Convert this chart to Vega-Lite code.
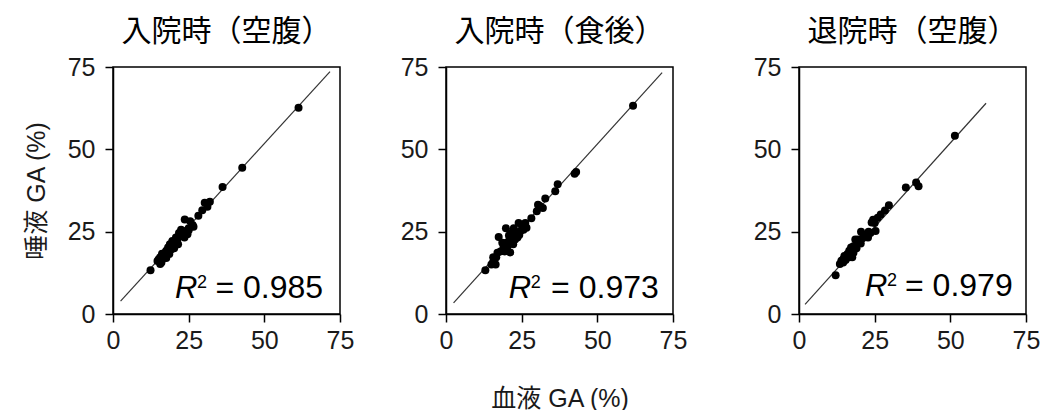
{
  "$schema": "https://vega.github.io/schema/vega-lite/v6.json",
  "padding": {"left": 23, "top": 16, "right": 0, "bottom": 0},
  "background": "white",
  "spacing": 44,
  "config": {
    "view": {"stroke": "#000", "strokeWidth": 1.5},
    "font": "Liberation Sans, Noto Sans CJK JP",
    "title": {"font": "Noto Sans CJK JP", "fontSize": 30, "fontWeight": "normal", "color": "#000", "offset": 8},
    "axisX": {"labelPadding": 6},
    "axisY": {"labelPadding": 10},
    "axis": {
      "grid": false, "labelFontSize": 25, "labelFont": "Liberation Sans", "labelColor": "#1a1a1a",
      "tickSize": 8, "tickWidth": 1.5, "tickColor": "#000", "domainColor": "#000", "domainWidth": 1.5,
      "titleFontSize": 25, "titleFont": "Liberation Sans, Noto Sans CJK JP", "titleFontWeight": "normal", "titleColor": "#1a1a1a",
      "labelFlush": false, "labelOverlap": false
    }
  },
  "datasets": {
    "pts": [
      {"panel":1,"x":61.3,"y":62.6},{"panel":1,"x":42.7,"y":44.4},{"panel":1,"x":36.2,"y":38.6},{"panel":1,"x":32.0,"y":34.1},{"panel":1,"x":30.3,"y":33.8},{"panel":1,"x":31.2,"y":32.6},{"panel":1,"x":29.5,"y":31.5},{"panel":1,"x":28.2,"y":29.8},{"panel":1,"x":23.7,"y":28.7},{"panel":1,"x":25.5,"y":28.2},{"panel":1,"x":26.3,"y":27.0},{"panel":1,"x":25.0,"y":26.0},{"panel":1,"x":24.0,"y":25.2},{"panel":1,"x":22.5,"y":25.6},{"panel":1,"x":21.8,"y":24.6},{"panel":1,"x":23.2,"y":23.6},{"panel":1,"x":22.8,"y":24.8},{"panel":1,"x":20.8,"y":23.2},{"panel":1,"x":21.2,"y":22.4},{"panel":1,"x":19.6,"y":22.2},{"panel":1,"x":20.2,"y":21.0},{"panel":1,"x":18.8,"y":21.2},{"panel":1,"x":18.2,"y":20.2},{"panel":1,"x":19.2,"y":19.6},{"panel":1,"x":17.6,"y":19.2},{"panel":1,"x":17.2,"y":18.6},{"panel":1,"x":16.6,"y":17.8},{"panel":1,"x":16.2,"y":18.3},{"panel":1,"x":15.6,"y":17.2},{"panel":1,"x":15.1,"y":16.6},{"panel":1,"x":16.0,"y":15.6},{"panel":1,"x":17.6,"y":17.0},{"panel":1,"x":14.7,"y":16.1},{"panel":1,"x":12.4,"y":13.3},{"panel":1,"x":15.6,"y":15.2},{"panel":1,"x":18.6,"y":18.2},{"panel":1,"x":23.6,"y":23.2},{"panel":1,"x":24.6,"y":24.2},{"panel":1,"x":26.6,"y":26.5},{"panel":1,"x":20.2,"y":20.0},{"panel":1,"x":19.0,"y":20.6},{"panel":1,"x":21.5,"y":21.2},{"panel":1,"x":22.0,"y":23.8},{"panel":1,"x":17.0,"y":17.6},{"panel":1,"x":16.4,"y":16.8},{"panel":1,"x":25.0,"y":25.4},
      {"panel":2,"x":61.8,"y":63.2},{"panel":2,"x":43.0,"y":43.1},{"panel":2,"x":42.5,"y":42.6},{"panel":2,"x":36.9,"y":39.4},{"panel":2,"x":36.1,"y":37.3},{"panel":2,"x":32.8,"y":35.1},{"panel":2,"x":31.0,"y":32.8},{"panel":2,"x":30.4,"y":33.2},{"panel":2,"x":32.0,"y":32.2},{"panel":2,"x":30.0,"y":31.2},{"panel":2,"x":28.2,"y":29.1},{"panel":2,"x":26.2,"y":27.6},{"panel":2,"x":25.2,"y":26.6},{"panel":2,"x":24.0,"y":27.6},{"panel":2,"x":24.6,"y":25.2},{"panel":2,"x":23.0,"y":24.2},{"panel":2,"x":22.4,"y":26.0},{"panel":2,"x":21.4,"y":24.6},{"panel":2,"x":23.6,"y":23.2},{"panel":2,"x":21.0,"y":22.6},{"panel":2,"x":20.0,"y":21.6},{"panel":2,"x":19.8,"y":26.0},{"panel":2,"x":17.4,"y":23.4},{"panel":2,"x":21.2,"y":18.7},{"panel":2,"x":19.0,"y":20.2},{"panel":2,"x":18.0,"y":19.0},{"panel":2,"x":17.0,"y":18.6},{"panel":2,"x":16.6,"y":17.2},{"panel":2,"x":16.0,"y":16.6},{"panel":2,"x":15.5,"y":15.6},{"panel":2,"x":15.0,"y":15.0},{"panel":2,"x":13.0,"y":13.3},{"panel":2,"x":20.2,"y":20.2},{"panel":2,"x":22.2,"y":21.2},{"panel":2,"x":24.2,"y":24.0},{"panel":2,"x":26.6,"y":26.2},{"panel":2,"x":18.6,"y":21.6},{"panel":2,"x":15.6,"y":17.2},{"panel":2,"x":20.8,"y":23.8},{"panel":2,"x":25.6,"y":25.6},{"panel":2,"x":19.4,"y":19.0},{"panel":2,"x":22.8,"y":22.6},{"panel":2,"x":16.4,"y":15.0},
      {"panel":3,"x":51.5,"y":54.1},{"panel":3,"x":38.7,"y":39.9},{"panel":3,"x":39.5,"y":38.8},{"panel":3,"x":35.3,"y":38.4},{"panel":3,"x":29.7,"y":33.0},{"panel":3,"x":28.4,"y":31.4},{"panel":3,"x":27.0,"y":30.2},{"panel":3,"x":26.0,"y":29.2},{"panel":3,"x":24.5,"y":28.6},{"panel":3,"x":25.0,"y":27.6},{"panel":3,"x":24.0,"y":27.8},{"panel":3,"x":25.3,"y":25.2},{"panel":3,"x":23.0,"y":25.0},{"panel":3,"x":22.0,"y":23.6},{"panel":3,"x":20.5,"y":25.0},{"panel":3,"x":21.0,"y":23.0},{"panel":3,"x":19.6,"y":22.6},{"panel":3,"x":18.6,"y":22.6},{"panel":3,"x":19.0,"y":21.0},{"panel":3,"x":18.0,"y":20.6},{"panel":3,"x":17.6,"y":19.6},{"panel":3,"x":17.0,"y":18.6},{"panel":3,"x":16.6,"y":19.2},{"panel":3,"x":16.0,"y":18.2},{"panel":3,"x":15.6,"y":17.6},{"panel":3,"x":15.0,"y":17.6},{"panel":3,"x":14.6,"y":16.6},{"panel":3,"x":14.0,"y":16.2},{"panel":3,"x":13.5,"y":15.2},{"panel":3,"x":14.6,"y":15.6},{"panel":3,"x":16.6,"y":17.2},{"panel":3,"x":18.0,"y":18.6},{"panel":3,"x":20.0,"y":22.0},{"panel":3,"x":12.1,"y":11.8},{"panel":3,"x":17.6,"y":17.2},{"panel":3,"x":19.0,"y":20.0},{"panel":3,"x":21.6,"y":24.0},{"panel":3,"x":23.6,"y":24.6},{"panel":3,"x":15.4,"y":16.4},{"panel":3,"x":20.4,"y":21.4},{"panel":3,"x":17.2,"y":20.2},{"panel":3,"x":22.8,"y":23.2}
    ],
    "fit": [
      {"panel":1,"x":2.5,"y":3.9},{"panel":1,"x":71.7,"y":73.6},
      {"panel":2,"x":2.5,"y":3.4},{"panel":2,"x":71.4,"y":73.3},
      {"panel":3,"x":2.0,"y":2.9},{"panel":3,"x":61.8,"y":64.0}
    ],
    "r2": [
      {"panel":1,"r":"R","sup":"2","eq":"= 0.985"},
      {"panel":2,"r":"R","sup":"2","eq":"= 0.973"},
      {"panel":3,"r":"R","sup":"2","eq":"= 0.979"}
    ]
  },
  "hconcat": [
    {
      "width": 227, "height": 247,
      "title": "入院時（空腹）",
      "layer": [
        {"data": {"name": "fit"}, "transform": [{"filter": "datum.panel == 1"}],
         "mark": {"type": "line", "color": "#333", "strokeWidth": 1.2},
         "encoding": {
           "x": {"field": "x", "type": "quantitative", "scale": {"domain": [0, 75], "nice": false}, "axis": {"title": null, "values": [0, 25, 50, 75]}},
           "y": {"field": "y", "type": "quantitative", "scale": {"domain": [0, 75], "nice": false}, "axis": {"title": "唾液 GA (%)", "titlePadding": 18, "values": [0, 25, 50, 75]}}
         }},
        {"data": {"name": "pts"}, "transform": [{"filter": "datum.panel == 1"}],
         "mark": {"type": "circle", "size": 64, "color": "#000", "opacity": 1},
         "encoding": {"x": {"field": "x", "type": "quantitative"}, "y": {"field": "y", "type": "quantitative"}}},
        {"data": {"name": "r2"}, "transform": [{"filter": "datum.panel == 1"}],
         "mark": {"type": "text", "fontSize": 31, "fontStyle": "italic", "align": "left", "baseline": "alphabetic", "color": "#000", "font": "Liberation Sans"},
         "encoding": {"text": {"field": "r"}, "x": {"datum": 20.5}, "y": {"datum": 5}}},
        {"data": {"name": "r2"}, "transform": [{"filter": "datum.panel == 1"}],
         "mark": {"type": "text", "fontSize": 18, "align": "left", "baseline": "alphabetic", "color": "#000", "dx": 22, "dy": -10, "font": "Liberation Sans"},
         "encoding": {"text": {"field": "sup"}, "x": {"datum": 20.5}, "y": {"datum": 5}}},
        {"data": {"name": "r2"}, "transform": [{"filter": "datum.panel == 1"}],
         "mark": {"type": "text", "fontSize": 32, "align": "right", "baseline": "alphabetic", "color": "#000", "font": "Liberation Sans"},
         "encoding": {"text": {"field": "eq"}, "x": {"datum": 69.4}, "y": {"datum": 5}}}
      ]
    },
    {
      "width": 227, "height": 247,
      "title": "入院時（食後）",
      "layer": [
        {"data": {"name": "fit"}, "transform": [{"filter": "datum.panel == 2"}],
         "mark": {"type": "line", "color": "#333", "strokeWidth": 1.2},
         "encoding": {
           "x": {"field": "x", "type": "quantitative", "scale": {"domain": [0, 75], "nice": false}, "axis": {"title": "血液 GA (%)", "titlePadding": 33, "values": [0, 25, 50, 75]}},
           "y": {"field": "y", "type": "quantitative", "scale": {"domain": [0, 75], "nice": false}, "axis": {"title": null, "values": [0, 25, 50, 75]}}
         }},
        {"data": {"name": "pts"}, "transform": [{"filter": "datum.panel == 2"}],
         "mark": {"type": "circle", "size": 64, "color": "#000", "opacity": 1},
         "encoding": {"x": {"field": "x", "type": "quantitative"}, "y": {"field": "y", "type": "quantitative"}}},
        {"data": {"name": "r2"}, "transform": [{"filter": "datum.panel == 2"}],
         "mark": {"type": "text", "fontSize": 31, "fontStyle": "italic", "align": "left", "baseline": "alphabetic", "color": "#000", "font": "Liberation Sans"},
         "encoding": {"text": {"field": "r"}, "x": {"datum": 20.7}, "y": {"datum": 5}}},
        {"data": {"name": "r2"}, "transform": [{"filter": "datum.panel == 2"}],
         "mark": {"type": "text", "fontSize": 18, "align": "left", "baseline": "alphabetic", "color": "#000", "dx": 22, "dy": -10, "font": "Liberation Sans"},
         "encoding": {"text": {"field": "sup"}, "x": {"datum": 20.7}, "y": {"datum": 5}}},
        {"data": {"name": "r2"}, "transform": [{"filter": "datum.panel == 2"}],
         "mark": {"type": "text", "fontSize": 32, "align": "right", "baseline": "alphabetic", "color": "#000", "font": "Liberation Sans"},
         "encoding": {"text": {"field": "eq"}, "x": {"datum": 70.3}, "y": {"datum": 5}}}
      ]
    },
    {
      "width": 227, "height": 247,
      "title": "退院時（空腹）",
      "layer": [
        {"data": {"name": "fit"}, "transform": [{"filter": "datum.panel == 3"}],
         "mark": {"type": "line", "color": "#333", "strokeWidth": 1.2},
         "encoding": {
           "x": {"field": "x", "type": "quantitative", "scale": {"domain": [0, 75], "nice": false}, "axis": {"title": null, "values": [0, 25, 50, 75]}},
           "y": {"field": "y", "type": "quantitative", "scale": {"domain": [0, 75], "nice": false}, "axis": {"title": null, "minExtent": 66, "values": [0, 25, 50, 75]}}
         }},
        {"data": {"name": "pts"}, "transform": [{"filter": "datum.panel == 3"}],
         "mark": {"type": "circle", "size": 64, "color": "#000", "opacity": 1},
         "encoding": {"x": {"field": "x", "type": "quantitative"}, "y": {"field": "y", "type": "quantitative"}}},
        {"data": {"name": "r2"}, "transform": [{"filter": "datum.panel == 3"}],
         "mark": {"type": "text", "fontSize": 31, "fontStyle": "italic", "align": "left", "baseline": "alphabetic", "color": "#000", "font": "Liberation Sans"},
         "encoding": {"text": {"field": "r"}, "x": {"datum": 21.8}, "y": {"datum": 5.5}}},
        {"data": {"name": "r2"}, "transform": [{"filter": "datum.panel == 3"}],
         "mark": {"type": "text", "fontSize": 18, "align": "left", "baseline": "alphabetic", "color": "#000", "dx": 22, "dy": -10, "font": "Liberation Sans"},
         "encoding": {"text": {"field": "sup"}, "x": {"datum": 21.8}, "y": {"datum": 5.5}}},
        {"data": {"name": "r2"}, "transform": [{"filter": "datum.panel == 3"}],
         "mark": {"type": "text", "fontSize": 32, "align": "right", "baseline": "alphabetic", "color": "#000", "font": "Liberation Sans"},
         "encoding": {"text": {"field": "eq"}, "x": {"datum": 70.6}, "y": {"datum": 5.5}}}
      ]
    }
  ]
}
